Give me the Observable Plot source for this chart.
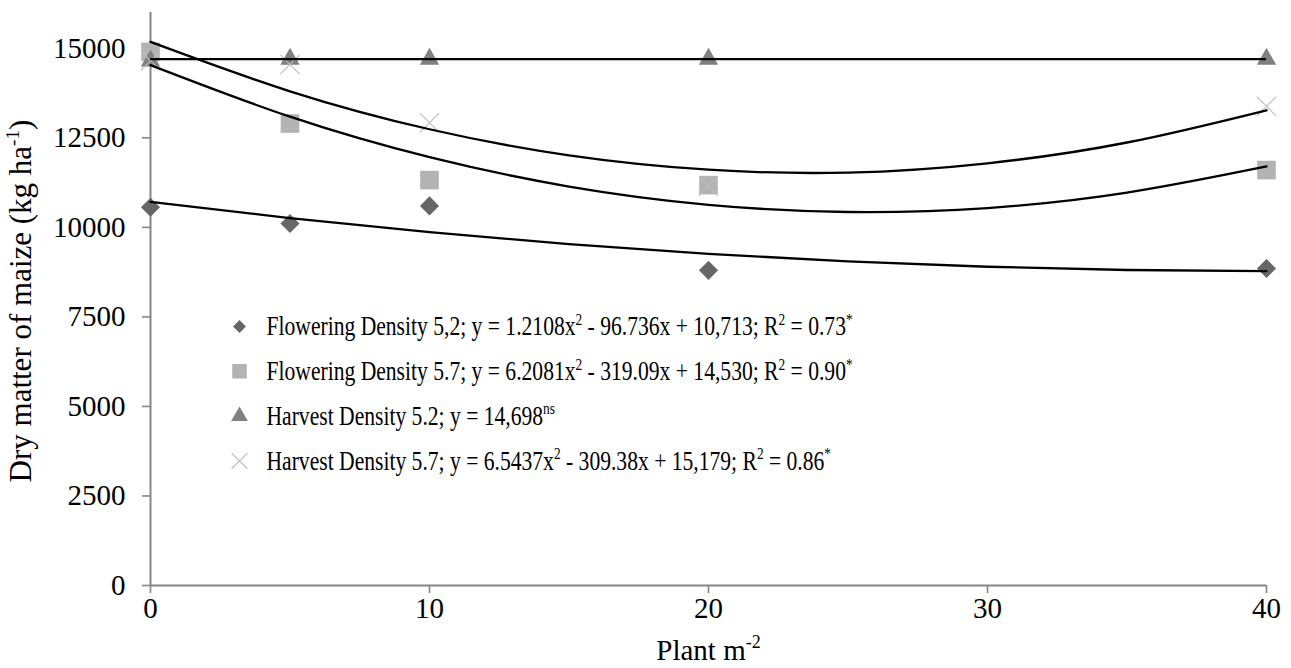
<!DOCTYPE html>
<html>
<head>
<meta charset="utf-8">
<script src="https://cdn.jsdelivr.net/npm/d3@7"></script>
<script src="https://cdn.jsdelivr.net/npm/@observablehq/plot@0.6"></script>
<style>
  html, body { margin: 0; padding: 0; background: #fff; }
  #chart { width: 1291px; height: 668px; }
  #chart svg, #chart svg text { font-family: "Liberation Serif", "Times New Roman", serif !important; }
</style>
</head>
<body>
<div id="chart"></div>
<script>
// ---- data ----
const plantDensity = [0, 5, 10, 20, 40];
const flowering52 = [10560, 10110, 10600, 8800, 8850];
const flowering57 = [14900, 12900, 11320, 11180, 11600];
const harvest52   = [14650, 14700, 14700, 14700, 14700];
const harvest57   = [14650, 14550, 12920, 11150, 13380];

// trend lines
const fitX = [0, 5, 10, 15, 20, 25, 30, 35, 40];
const fitFlowering52 = [10710, 10260, 9870, 9530, 9260, 9050, 8900, 8810, 8780];
const fitFlowering57 = [14530, 13090, 11960, 11140, 10630, 10430, 10540, 10970, 11700];
const fitHarvest57   = [15180, 13800, 12740, 12010, 11610, 11530, 11790, 12370, 13270];
const fitHarvest52   = [14698];

const legendLabels = [
  "Flowering Density 5,2; y = 1.2108x^{2} - 96.736x + 10,713; R^{2} = 0.73^{*}",
  "Flowering Density 5.7; y = 6.2081x^{2} - 319.09x + 14,530; R^{2} = 0.90^{*}",
  "Harvest Density 5.2; y = 14,698^{ns}",
  "Harvest Density 5.7; y = 6.5437x^{2} - 309.38x + 15,179; R^{2} = 0.86^{*}"
];
const xTicks = [0, 10, 20, 30, 40];
const yTicks = [0, 2500, 5000, 7500, 10000, 12500, 15000];
const xLabel = "Plant m^{-2}";
const yLabel = "Dry matter of maize (kg ha^{-1})";

// ---- styles ----
const serif = "Liberation Serif";
const axisGrey = "#868686";
const seriesStyle = [
  {symbol: "diamond2", r: 8.6, fill: "#666666", stroke: "none", lr: 5.8},
  {symbol: "square",   r: 10.5, fill: "#b3b3b3", stroke: "none", lr: 8.2},
  {symbol: "triangle", r: 7.2, fill: "#808080", stroke: "none", lr: 6.2},
  {symbol: "times",    r: 8.8, fill: "none", stroke: "#bdbdbd", lr: 7.2}
];
const seriesValues = [flowering52, flowering57, harvest52, harvest57];
const toPoints = (vals) => plantDensity.map((x, i) => ({x, y: vals[i]}));
const toFit = (vals) => fitX.map((x, i) => ({x, y: vals[i]}));

const legendTop = 314;   // offset of first legend row from frame top
const legendStep = 44.8;

const marks = [
  Plot.ruleY([0], {stroke: axisGrey, strokeWidth: 2}),
  Plot.ruleX([0], {stroke: axisGrey, strokeWidth: 2}),
  Plot.axisY(yTicks, {tickSize: 8, tickPadding: 17, stroke: axisGrey, strokeWidth: 1.6,
    fontSize: 29, fontFamily: serif, tickFormat: d => String(d), label: null}),
  Plot.axisX(xTicks, {tickSize: 8, tickPadding: 4, stroke: axisGrey, strokeWidth: 1.6,
    fontSize: 29, fontFamily: serif, tickFormat: d => String(d), label: null}),
];
seriesValues.forEach((vals, i) => {
  const s = seriesStyle[i];
  marks.push(Plot.dot(toPoints(vals), {x: "x", y: "y", symbol: () => s.symbol, r: s.r,
    fill: s.fill, stroke: s.stroke, strokeWidth: 1.1}));
});
[fitFlowering52, fitFlowering57, fitHarvest57].forEach(vals => {
  marks.push(Plot.line(toFit(vals), {x: "x", y: "y", curve: "natural", stroke: "black", strokeWidth: 2.3}));
});
marks.push(Plot.ruleY(fitHarvest52, {stroke: "black", strokeWidth: 2.3}));

legendLabels.forEach((lab, i) => {
  const s = seriesStyle[i];
  marks.push(Plot.dot([lab], {frameAnchor: "top-left", dx: 89, dy: legendTop + i * legendStep,
    symbol: () => s.symbol, r: s.lr, fill: s.fill, stroke: s.stroke, strokeWidth: 1.1}));
  marks.push(Plot.text([lab], {frameAnchor: "top-left", dx: 116, dy: legendTop + i * legendStep,
    textAnchor: "start", lineAnchor: "middle", fontSize: 27, fontFamily: serif, fill: "black"}));
});
marks.push(Plot.text([yLabel], {frameAnchor: "left", dx: -120, dy: 2, rotate: -90,
  textAnchor: "middle", lineAnchor: "bottom", fontSize: 31, fontFamily: serif, fill: "black"}));
marks.push(Plot.text([xLabel], {frameAnchor: "bottom", dy: 74, textAnchor: "middle",
  lineAnchor: "bottom", fontSize: 29, fontFamily: serif, fill: "black"}));

const svg = Plot.plot({
  width: 1291,
  height: 668,
  marginLeft: 150,
  marginRight: 25,
  marginTop: 12,
  marginBottom: 83,
  x: {domain: [0, 40], label: null},
  y: {domain: [0, 16000], label: null},
  style: {fontFamily: serif, fontSize: "29px", color: "black", background: "white"},
  marks
});
svg.setAttribute("font-family", serif);
document.getElementById("chart").appendChild(svg);

// superscripts: turn ^{...} into raised tspans
d3.select(svg).selectAll("text").each(function() {
  const t = this.textContent;
  if (!t.includes("^{")) return;
  const base = parseFloat(getComputedStyle(this).fontSize) || 29;
  const shift = base * 0.38;
  const parts = t.split(/\^\{([^}]*)\}/);
  this.textContent = "";
  let raised = false;
  parts.forEach((p, k) => {
    if (p === "") { return; }
    const sp = document.createElementNS("http://www.w3.org/2000/svg", "tspan");
    sp.textContent = p;
    if (k % 2 === 1) {
      sp.setAttribute("font-size", (base * 0.62) + "px");
      sp.setAttribute("dy", raised ? 0 : -shift);
      raised = true;
    } else {
      if (raised) sp.setAttribute("dy", shift);
      raised = false;
    }
    this.appendChild(sp);
  });
});

// legend text is horizontally condensed in the reference
d3.select(svg).selectAll("text").each(function() {
  if (!this.textContent.includes("Density")) return;
  const m = this.transform.baseVal.consolidate();
  const tx = m ? m.matrix.e : 0;
  const bb = this.getBBox();
  const a = tx + bb.x;
  const g = document.createElementNS("http://www.w3.org/2000/svg", "g");
  g.setAttribute("transform", `translate(${a},0) scale(0.8,1) translate(${-a},0)`);
  this.parentNode.insertBefore(g, this);
  g.appendChild(this);
});
</script>
</body>
</html>
